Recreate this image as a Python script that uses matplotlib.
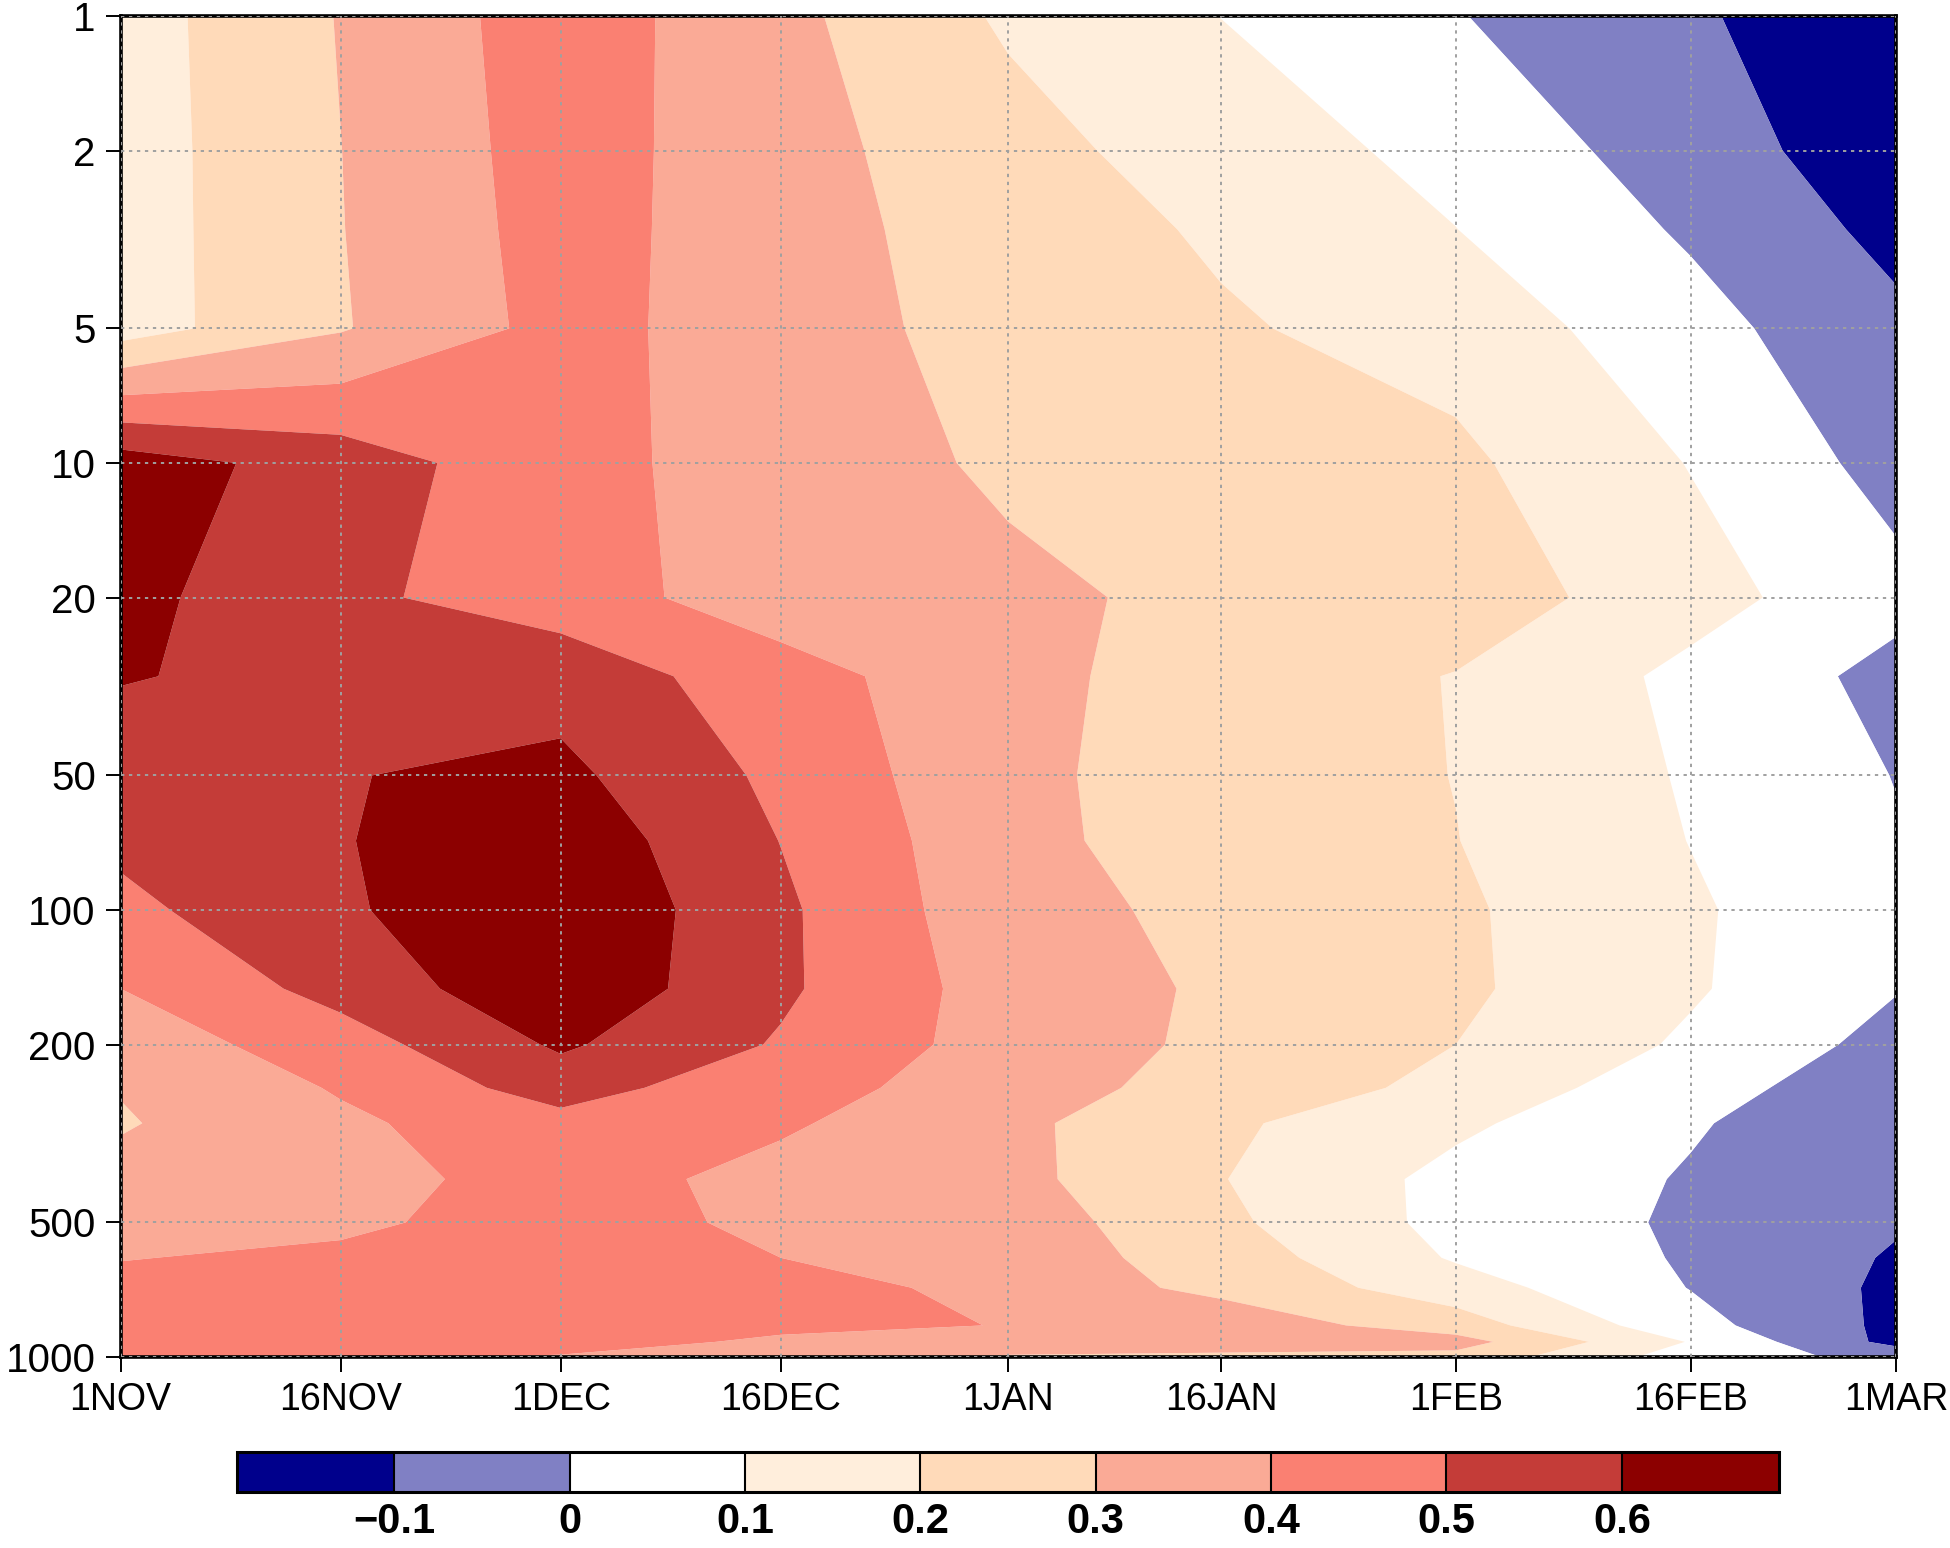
import numpy as np
import matplotlib
matplotlib.use("Agg")
import matplotlib.pyplot as plt
from matplotlib.colors import ListedColormap, BoundaryNorm

# pressure levels (hPa), listed from the top down
plev = [1, 2, 3, 5, 10, 20, 30, 50, 70, 100, 150, 200, 250, 300, 400, 500,
        600, 700, 850, 925, 1000]

# semi-monthly time steps, days after 1 Nov
day = [0, 15, 30, 45, 60.5, 75, 91, 107, 121]
date_labels = ["1NOV", "16NOV", "1DEC", "16DEC", "1JAN", "16JAN", "1FEB",
               "16FEB", "1MAR"]

# values at each date, from 1 hPa down to 1000 hPa
nov01 = [0.154, 0.152, 0.152, 0.153, 0.65, 0.63, 0.605, 0.555, 0.521, 0.475,
         0.40, 0.344, 0.305, 0.291, 0.332, 0.367, 0.396, 0.43, 0.45, 0.46, 0.46]
nov16 = [0.305, 0.299, 0.297, 0.292, 0.555, 0.52, 0.576, 0.596, 0.595, 0.586,
         0.535, 0.454, 0.409, 0.382, 0.364, 0.379, 0.421, 0.45, 0.45, 0.46, 0.42]
dec01 = [0.455, 0.447, 0.441, 0.433, 0.43, 0.45, 0.56, 0.624, 0.667, 0.69,
         0.679, 0.615, 0.546, 0.465, 0.44, 0.45, 0.44, 0.455, 0.45, 0.472, 0.387]
dec16 = [0.327, 0.336, 0.342, 0.35, 0.358, 0.344, 0.443, 0.477, 0.498, 0.518,
         0.517, 0.49, 0.425, 0.413, 0.37, 0.375, 0.40, 0.454, 0.44, 0.37, 0.335]
jan01 = [0.185, 0.238, 0.25, 0.258, 0.283, 0.322, 0.327, 0.321, 0.328, 0.331,
         0.353, 0.356, 0.368, 0.323, 0.329, 0.354, 0.353, 0.36, 0.395, 0.36, 0.29]
jan16 = [0.099, 0.147, 0.187, 0.211, 0.25, 0.275, 0.257, 0.256, 0.25, 0.278,
         0.286, 0.28, 0.24, 0.218, 0.204, 0.222, 0.255, 0.276, 0.357, 0.35, 0.28]
feb01 = [0.005, 0.073, 0.101, 0.161, 0.22, 0.258, 0.196, 0.198, 0.202, 0.215,
         0.218, 0.2, 0.183, 0.119, 0.071, 0.068, 0.09, 0.146, 0.25, 0.339, 0.27]
feb16 = [-0.088, -0.053, -0.013, 0.035, 0.096, 0.138, 0.076, 0.09, 0.098, 0.112,
         0.111, 0.085, 0.022, 0.009, -0.008, -0.015, -0.011, -0.003, 0.035,
         0.094, 0.05]
mar01 = [-0.168, -0.158, -0.128, -0.078, -0.036, 0.03, -0.03, -0.003, 0.008,
         0.023, 0.005, -0.033, -0.035, -0.07, -0.07, -0.09, -0.11, -0.12,
         -0.125, -0.13, -0.029]

levels = [-0.1, 0, 0.1, 0.2, 0.3, 0.4, 0.5, 0.6]
level_labels = ["\u22120.1", "0", "0.1", "0.2", "0.3", "0.4", "0.5", "0.6"]
colors = ["#00008c", "#8080c4", "#ffffff", "#ffeedc", "#ffdab9", "#faaa96",
          "#fa8072", "#c43c38", "#8c0000"]

ytick_p = [1, 2, 5, 10, 20, 50, 100, 200, 500, 1000]

plt.rcParams['font.family'] = ['Liberation Sans', 'DejaVu Sans']

cmap = ListedColormap(colors[1:-1])
cmap.set_under(colors[0])
cmap.set_over(colors[-1])
norm = BoundaryNorm(levels, cmap.N)

Z = np.column_stack([nov01, nov16, dec01, dec16, jan01, jan16, feb01, feb16, mar01])
X, Y = np.meshgrid(day, np.log10(plev))

fig = plt.figure(figsize=(19.5, 15.48), dpi=100)
ax = fig.add_axes([0.0618, 0.1234, 0.9105, 0.8663])
cs = ax.contourf(X, Y, Z, levels=levels, cmap=cmap, norm=norm, extend='both',
                 antialiased=True)

ax.set_xlim(day[0], day[-1])
ax.set_ylim(np.log10(1000), np.log10(1))
ax.set_xticks(day)
ax.set_xticklabels(date_labels, fontsize=27)
ax.set_yticks(np.log10(ytick_p))
ax.set_yticklabels([str(p) for p in ytick_p], fontsize=29)
ax.tick_params(direction='out', length=10.8, width=1.4, pad=7,
               top=False, right=False)
ax.set_axisbelow(False)
ax.grid(True, color='#a0a0a0', linestyle=(0, (1.7, 2.4)), linewidth=1.4)
for sp in ax.spines.values():
    sp.set_linewidth(2.6)

cax = fig.add_axes([237 / 1950, 0.0362, 1542 / 1950, 0.0258])
cb = fig.colorbar(cs, cax=cax, orientation='horizontal', ticks=levels,
                  extendfrac=0.128, extendrect=True, drawedges=True)
cb.outline.set_linewidth(2.2)
cb.dividers.set_color('black')
cb.dividers.set_linewidth(1.5)
cax.tick_params(length=0, pad=7)
cb.set_ticklabels(level_labels)
for t in cax.get_xticklabels():
    t.set_fontfamily(['Liberation Sans Narrow', 'Liberation Sans', 'DejaVu Sans'])
    t.set_fontweight('bold')
    t.set_fontsize(30)

fig.savefig("out.png", dpi=100)
